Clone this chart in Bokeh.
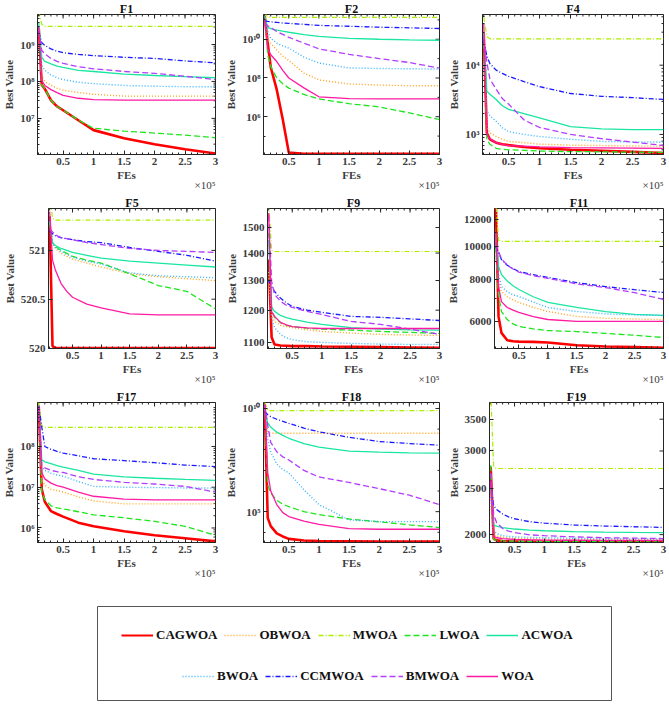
import math
from bokeh.plotting import figure
from bokeh.models import Range1d, FixedTicker, Title, Legend, LegendItem
from bokeh.layouts import column, row
from bokeh.embed import file_html
from bokeh.resources import INLINE

# ---------------- data ----------------
FES = [1e4, 1.5e4, 2e4, 3e4, 4e4, 5e4, 7.5e4, 1e5, 1.5e5, 2e5, 2.5e5, 3e5]
X_TICKS = [5e4, 1e5, 1.5e5, 2e5, 2.5e5, 3e5]
X_TICK_LABELS = ["0.5", "1", "1.5", "2", "2.5", "3"]

ALGOS = ["CAGWOA", "OBWOA", "MWOA", "LWOA", "ACWOA", "BWOA", "CCMWOA", "BMWOA", "WOA"]
COLORS = ["#ff0000", "#ffa31a", "#aeee00", "#1ee61e", "#1ae6a0", "#33b3ff", "#1a1aff", "#b33cff", "#ff1aa3"]
DASHES = ["solid", "1 2", "5 2 1 2", "6 3", "solid", "1 2", "5 2 1 2", "6 3", "solid"]
WIDTHS = [2.6, 1.4, 1.2, 1.3, 1.3, 1.4, 1.3, 1.3, 1.3]

F1 = {
    "CAGWOA": [2.8e9, 8.0e7, 6.3e7, 3.1e7, 2.1e7, 1.66e7, 8.9e6, 4.8e6, 2.9e6, 2.0e6, 1.45e6, 1.12e6],
    "OBWOA": [3.0e9, 1.45e8, 1.0e8, 7.9e7, 6.6e7, 5.8e7, 5.0e7, 4.5e7, 4.0e7, 4.0e7, 4.0e7, 4.0e7],
    "MWOA": [8.0e9, 3.5e9, 3.1e9, 3.1e9, 3.1e9, 3.1e9, 3.1e9, 3.1e9, 3.1e9, 3.1e9, 3.1e9, 3.1e9],
    "LWOA": [2.5e9, 8.0e7, 6.3e7, 3.1e7, 2.1e7, 1.66e7, 9.0e6, 5.4e6, 4.5e6, 4.0e6, 3.5e6, 3.0e6],
    "ACWOA": [4.0e9, 4.5e8, 3.5e8, 3.0e8, 2.6e8, 2.4e8, 2.0e8, 1.86e8, 1.58e8, 1.45e8, 1.35e8, 1.26e8],
    "BWOA": [3.0e9, 2.7e8, 2.0e8, 1.5e8, 1.26e8, 1.12e8, 9.5e7, 8.7e7, 7.8e7, 7.4e7, 7.2e7, 7.2e7],
    "CCMWOA": [2.2e9, 1.12e9, 9.5e8, 7.6e8, 6.6e8, 6.0e8, 5.4e8, 5.0e8, 4.5e8, 4.2e8, 3.6e8, 3.2e8],
    "BMWOA": [2.5e9, 6.9e8, 5.6e8, 4.2e8, 3.5e8, 3.1e8, 2.5e8, 2.2e8, 1.86e8, 1.66e8, 1.38e8, 1.12e8],
    "WOA": [3.0e9, 1.07e8, 7.8e7, 6.0e7, 5.0e7, 4.2e7, 3.5e7, 3.2e7, 3.1e7, 3.1e7, 3.1e7, 3.1e7],
}
F2 = {
    "CAGWOA": [1.6e11, 6.3e9, 3.6e8, 2.5e7, 7.1e5, 1.4e4, 1.2e4, 1.2e4, 1.2e4, 1.2e4, 1.2e4, 1.2e4],
    "OBWOA": [1.0e11, 1.0e10, 6.2e9, 2.75e9, 1.35e9, 7.9e8, 1.8e8, 7.9e7, 4.9e7, 4.3e7, 4.0e7, 4.0e7],
    "MWOA": [2.5e11, 1.4e11, 1.35e11, 1.35e11, 1.35e11, 1.35e11, 1.35e11, 1.35e11, 1.35e11, 1.35e11, 1.35e11, 1.35e11],
    "LWOA": [1.0e11, 1.58e9, 4.0e8, 1.0e8, 5.0e7, 3.0e7, 1.41e7, 8.3e6, 4.7e6, 3.2e6, 1.58e6, 7.1e5],
    "ACWOA": [1.6e11, 4.0e10, 3.5e10, 3.0e10, 2.6e10, 2.3e10, 1.74e10, 1.41e10, 1.12e10, 1.0e10, 9.3e9, 8.9e9],
    "BWOA": [1.0e11, 2.5e10, 1.12e10, 6.3e9, 4.5e9, 3.5e9, 1.2e9, 5.9e8, 3.3e8, 3.1e8, 3.0e8, 2.9e8],
    "CCMWOA": [8.9e10, 8.3e10, 7.9e10, 7.4e10, 6.9e10, 6.6e10, 5.9e10, 5.2e10, 4.7e10, 4.2e10, 3.9e10, 3.6e10],
    "BMWOA": [7.1e10, 5.0e10, 4.0e10, 2.5e10, 1.78e10, 1.26e10, 6.3e9, 3.2e9, 1.66e9, 1.0e9, 6.3e8, 3.2e8],
    "WOA": [1.0e11, 3.2e9, 1.58e9, 7.1e8, 2.5e8, 1.0e8, 3.1e7, 1.07e7, 8.5e6, 8.3e6, 8.3e6, 8.3e6],
}
F4 = {
    "CAGWOA": [2.9e4, 1050, 850, 760, 720, 700, 660, 630, 600, 580, 560, 540],
    "OBWOA": [3.0e4, 1300, 1050, 933, 850, 794, 760, 724, 700, 690, 680, 676],
    "MWOA": [5.0e4, 2.6e4, 2.4e4, 2.4e4, 2.4e4, 2.4e4, 2.4e4, 2.4e4, 2.4e4, 2.4e4, 2.4e4, 2.4e4],
    "LWOA": [2.8e4, 850, 720, 630, 610, 600, 590, 575, 565, 560, 555, 550],
    "ACWOA": [3.0e4, 4200, 3800, 3200, 2600, 2300, 2000, 1740, 1300, 1200, 1175, 1170],
    "BWOA": [2.5e4, 2200, 1860, 1550, 1250, 1100, 1000, 933, 851, 794, 780, 776],
    "CCMWOA": [2.3e4, 1.35e4, 1.05e4, 8500, 7600, 6900, 5800, 4900, 3900, 3550, 3400, 3200],
    "BMWOA": [2.5e4, 1.1e4, 6300, 4500, 3300, 2750, 1620, 1260, 1000, 870, 776, 692],
    "WOA": [4.0e4, 1000, 870, 760, 720, 690, 676, 660, 645, 640, 635, 630],
}
F5 = {
    "CAGWOA": [521.35, 520.02, 520.0, 520.0, 520.0, 520.0, 520.0, 520.0, 520.0, 520.0, 520.0, 520.0],
    "OBWOA": [521.3, 521.07, 521.02, 520.97, 520.94, 520.91, 520.87, 520.83, 520.76, 520.73, 520.71, 520.69],
    "MWOA": [521.6, 521.33, 521.31, 521.31, 521.31, 521.31, 521.31, 521.31, 521.31, 521.31, 521.31, 521.31],
    "LWOA": [521.3, 521.08, 521.04, 521.0, 520.97, 520.94, 520.9, 520.87, 520.76, 520.64, 520.58, 520.4],
    "ACWOA": [521.3, 521.08, 521.05, 521.02, 521.0, 520.98, 520.95, 520.92, 520.89, 520.87, 520.85, 520.83],
    "BWOA": [521.3, 521.08, 521.03, 520.99, 520.96, 520.93, 520.89, 520.86, 520.77, 520.74, 520.73, 520.72],
    "CCMWOA": [521.2, 521.17, 521.15, 521.13, 521.12, 521.11, 521.09, 521.08, 521.03, 520.99, 520.95, 520.89],
    "BMWOA": [521.22, 521.19, 521.16, 521.13, 521.12, 521.11, 521.08, 521.06, 521.02, 521.0, 520.99, 520.98],
    "WOA": [521.4, 520.9, 520.8, 520.66, 520.58, 520.52, 520.45, 520.41, 520.35, 520.34, 520.34, 520.34],
}
F9 = {
    "CAGWOA": [1376, 1115, 1094, 1091, 1090, 1089, 1089, 1088, 1087, 1086, 1085, 1084],
    "OBWOA": [1330, 1185, 1164, 1152, 1148, 1145, 1138, 1133, 1128, 1124, 1122, 1121],
    "MWOA": [1600, 1410, 1406, 1406, 1406, 1406, 1406, 1406, 1406, 1406, 1406, 1406],
    "LWOA": [1480, 1200, 1177, 1160, 1152, 1148, 1143, 1140, 1137, 1133, 1130, 1127],
    "ACWOA": [1450, 1210, 1196, 1183, 1176, 1171, 1162, 1155, 1145, 1140, 1138, 1137],
    "BWOA": [1500, 1170, 1145, 1124, 1114, 1108, 1102, 1100, 1097, 1095, 1094, 1094],
    "CCMWOA": [1300, 1280, 1262, 1240, 1224, 1212, 1200, 1193, 1180, 1177, 1172, 1167],
    "BMWOA": [1550, 1297, 1252, 1229, 1216, 1209, 1196, 1186, 1164, 1155, 1140, 1124],
    "WOA": [1560, 1195, 1180, 1161, 1153, 1148, 1144, 1142, 1142, 1142, 1142, 1142],
}
F11 = {
    "CAGWOA": [14000, 6200, 5550, 5280, 5240, 5230, 5220, 5200, 5100, 5060, 5040, 5010],
    "OBWOA": [10500, 7880, 7360, 7100, 6950, 6830, 6600, 6420, 6210, 6130, 6100, 6080],
    "MWOA": [14000, 10400, 10350, 10350, 10350, 10350, 10350, 10350, 10350, 10350, 10350, 10350],
    "LWOA": [10000, 7210, 6420, 6080, 5900, 5800, 5700, 5640, 5600, 5530, 5460, 5380],
    "ACWOA": [11000, 8730, 8260, 7900, 7650, 7460, 7100, 6830, 6600, 6420, 6300, 6250],
    "BWOA": [10500, 8260, 7610, 7350, 7200, 7110, 6850, 6600, 6420, 6320, 6270, 6250],
    "CCMWOA": [10000, 9600, 9150, 8800, 8600, 8430, 8250, 8100, 7820, 7610, 7450, 7310],
    "BMWOA": [10200, 9660, 9200, 8800, 8580, 8400, 8200, 8050, 7750, 7560, 7300, 6970],
    "WOA": [11000, 7610, 6870, 6600, 6480, 6380, 6200, 6080, 6000, 6000, 6000, 6000],
}
F17 = {
    "CAGWOA": [1.0e9, 8.9e6, 4.4e6, 2.6e6, 2.2e6, 1.9e6, 1.35e6, 1.1e6, 8.3e5, 6.6e5, 5.6e5, 4.7e5],
    "OBWOA": [1.0e9, 1.55e7, 1.12e7, 8.9e6, 8.3e6, 7.6e6, 5.8e6, 4.6e6, 3.9e6, 3.9e6, 3.9e6, 3.9e6],
    "MWOA": [1.2e9, 3.2e8, 2.95e8, 2.95e8, 2.95e8, 2.95e8, 2.95e8, 2.95e8, 2.95e8, 2.95e8, 2.95e8, 2.95e8],
    "LWOA": [1.0e9, 7.6e6, 5.0e6, 3.5e6, 3.1e6, 2.95e6, 2.5e6, 2.1e6, 1.78e6, 1.45e6, 1.1e6, 6.6e5],
    "ACWOA": [1.0e9, 4.7e7, 4.2e7, 3.8e7, 3.4e7, 3.1e7, 2.6e7, 2.1e7, 1.8e7, 1.66e7, 1.55e7, 1.48e7],
    "BWOA": [1.0e9, 3.2e7, 2.6e7, 2.2e7, 2.0e7, 1.86e7, 1.38e7, 1.05e7, 1.0e7, 9.8e6, 9.6e6, 9.5e6],
    "CCMWOA": [1.0e9, 3.0e8, 1.0e8, 8.5e7, 7.6e7, 6.9e7, 5.9e7, 5.0e7, 4.5e7, 4.0e7, 3.5e7, 3.2e7],
    "BMWOA": [1.0e9, 3.5e7, 3.0e7, 2.6e7, 2.4e7, 2.3e7, 1.8e7, 1.55e7, 1.32e7, 1.2e7, 1.05e7, 7.6e6],
    "WOA": [1.0e9, 2.3e7, 1.6e7, 1.26e7, 1.1e7, 1.0e7, 7.6e6, 6.0e6, 5.1e6, 4.9e6, 4.9e6, 4.9e6],
}
F18 = {
    "CAGWOA": [1.58e10, 5.0e4, 2.0e4, 8.9e3, 6.3e3, 4.8e3, 4.0e3, 3.8e3, 3.7e3, 3.6e3, 3.6e3, 3.6e3],
    "OBWOA": [1.6e10, 7.0e8, 6.3e8, 6.3e8, 6.3e8, 6.3e8, 6.3e8, 6.3e8, 6.3e8, 6.3e8, 6.3e8, 6.3e8],
    "MWOA": [2.0e10, 8.5e9, 7.9e9, 7.9e9, 7.9e9, 7.9e9, 7.9e9, 7.9e9, 7.9e9, 7.9e9, 7.9e9, 7.9e9],
    "LWOA": [1.58e10, 2.0e6, 7.9e5, 3.5e5, 2.3e5, 1.74e5, 1.0e5, 7.2e4, 4.4e4, 3.2e4, 2.3e4, 1.7e4],
    "ACWOA": [1.0e10, 2.0e9, 1.26e9, 7.1e8, 5.0e8, 3.6e8, 2.0e8, 1.35e8, 8.5e7, 7.6e7, 7.1e7, 6.9e7],
    "BWOA": [1.26e10, 3.2e8, 7.9e7, 2.0e7, 1.1e7, 7.6e6, 1.15e6, 2.2e5, 4.0e4, 3.3e4, 3.3e4, 3.3e4],
    "CCMWOA": [7.1e9, 5.0e9, 4.0e9, 3.0e9, 2.4e9, 1.9e9, 1.12e9, 7.4e8, 4.0e8, 2.5e8, 2.0e8, 1.66e8],
    "BMWOA": [1.58e10, 1.5e9, 2.3e8, 8.0e7, 4.5e7, 3.2e7, 1.0e7, 4.8e6, 2.6e6, 1.3e6, 6.3e5, 2.2e5],
    "WOA": [1.58e10, 7.9e6, 1.0e6, 2.2e5, 9.0e4, 5.8e4, 3.5e4, 2.4e4, 1.5e4, 1.4e4, 1.4e4, 1.4e4],
}
F19 = {
    "CAGWOA": [2780, 1960, 1945, 1938, 1936, 1935, 1934, 1932, 1931, 1930, 1929, 1929],
    "OBWOA": [2300, 2000, 1985, 1975, 1969, 1965, 1961, 1958, 1955, 1953, 1952, 1952],
    "MWOA": [4000, 2780, 2756, 2756, 2756, 2756, 2756, 2756, 2756, 2756, 2756, 2756],
    "LWOA": [2800, 1955, 1945, 1940, 1938, 1937, 1935, 1935, 1933, 1932, 1931, 1930],
    "ACWOA": [2500, 2095, 2085, 2070, 2062, 2055, 2045, 2038, 2030, 2025, 2021, 2019],
    "BWOA": [2400, 2040, 2010, 1990, 1983, 1978, 1973, 1970, 1965, 1961, 1959, 1958],
    "CCMWOA": [2600, 2300, 2260, 2210, 2180, 2160, 2130, 2115, 2095, 2085, 2078, 2071],
    "BMWOA": [2700, 2200, 2120, 2060, 2035, 2020, 1998, 1990, 1978, 1970, 1966, 1962],
    "WOA": [2600, 1985, 1970, 1962, 1958, 1955, 1951, 1948, 1946, 1945, 1944, 1944],
}

# y axis settings for each panel
F1_Y = dict(rng=(1.05e6, 6.5e9), ticks=[1e7, 1e8, 1e9], labels=["10⁷", "10⁸", "10⁹"])
F2_Y = dict(rng=(1.12e4, 1.9e11), ticks=[1e6, 1e8, 1e10], labels=["10⁶", "10⁸", "10¹⁰"])
F4_Y = dict(rng=(513, 5.4e4), ticks=[1e3, 1e4], labels=["10³", "10⁴"])
F5_Y = dict(rng=(519.995, 521.43), ticks=[520, 520.5, 521], labels=["520", "520.5", "521"])
F9_Y = dict(rng=(1082, 1579), ticks=[1100, 1200, 1300, 1400, 1500], labels=["1100", "1200", "1300", "1400", "1500"])
F11_Y = dict(rng=(4990, 12955), ticks=[6000, 8000, 10000, 12000], labels=["6000", "8000", "10000", "12000"])
F17_Y = dict(rng=(4.4e5, 1.2e9), ticks=[1e6, 1e7, 1e8], labels=["10⁶", "10⁷", "10⁸"])
F18_Y = dict(rng=(3.2e3, 1.95e10), ticks=[1e5, 1e10], labels=["10⁵", "10¹⁰"])
F19_Y = dict(rng=(1925, 3795), ticks=[2000, 2500, 3000, 3500], labels=["2000", "2500", "3000", "3500"])

FONT = "Liberation Serif"
AX = "#262626"
LBL = "#3a3a3a"


def log_minors(lo, hi):
    return [m * 10.0 ** e for e in range(lo, hi + 1) for m in range(2, 10)]


def style_axis(ax, ticker, overrides):
    ax.ticker = ticker
    ax.major_label_overrides = overrides
    ax.major_tick_in = 4
    ax.major_tick_out = 0
    ax.minor_tick_in = 2
    ax.minor_tick_out = 0
    ax.axis_line_color = AX
    ax.major_tick_line_color = AX
    ax.minor_tick_line_color = AX
    ax.major_label_text_font = FONT
    ax.major_label_text_font_style = "bold"
    ax.major_label_text_color = LBL
    ax.major_label_text_font_size = "11px"
    ax.major_label_standoff = 3
    ax.axis_label_text_font = FONT
    ax.axis_label_text_font_style = "bold"
    ax.axis_label_text_color = LBL
    ax.axis_label_text_font_size = "11px"
    ax.axis_label_standoff = 2


def panel(name, data, ycfg, yminor, bl, W, br):
    ylo, yhi = ycfg["rng"]
    p = figure(width=W, height=194, y_axis_type="log",
               x_range=Range1d(8000, 3e5), y_range=Range1d(ylo, yhi),
               output_backend="svg", toolbar_location=None,
               min_border_left=bl, min_border_right=br, min_border_top=14, min_border_bottom=40)
    p.title.text = name
    p.title.align = "center"
    p.title.text_font = FONT
    p.title.text_font_style = "bold"
    p.title.text_font_size = "12px"
    p.title.text_color = "#111111"
    p.title.standoff = -3
    p.xgrid.visible = False
    p.ygrid.visible = False
    p.outline_line_color = AX
    p.outline_line_alpha = 1
    p.background_fill_color = "white"
    p.border_fill_color = "white"

    x_minor = [k * 1e4 for k in range(1, 31)]
    x_over = {t: s for t, s in zip(X_TICKS, X_TICK_LABELS)}
    y_over = {t: s for t, s in zip(ycfg["ticks"], ycfg["labels"])}

    xa = p.xaxis[0]
    style_axis(xa, FixedTicker(ticks=X_TICKS, minor_ticks=x_minor), x_over)
    xa.axis_label = "FEs"
    xa.axis_label_standoff = 1
    ya = p.yaxis[0]
    style_axis(ya, FixedTicker(ticks=ycfg["ticks"], minor_ticks=yminor), y_over)
    ya.axis_label = "Best Value"

    # box ticks on the top and right edges (MATLAB "box on" style)
    p.ray(x=X_TICKS, y=[yhi] * len(X_TICKS), length=4, length_units="screen",
          angle=-math.pi / 2, line_color=AX, line_width=1)
    p.ray(x=x_minor, y=[yhi] * len(x_minor), length=2, length_units="screen",
          angle=-math.pi / 2, line_color=AX, line_width=1)
    p.ray(x=[3e5] * len(ycfg["ticks"]), y=ycfg["ticks"], length=4, length_units="screen",
          angle=math.pi, line_color=AX, line_width=1)
    ym_in = [v for v in yminor if ylo <= v <= yhi]
    if ym_in:
        p.ray(x=[3e5] * len(ym_in), y=ym_in, length=2, length_units="screen",
              angle=math.pi, line_color=AX, line_width=1)

    for a, c, d, w in zip(ALGOS, COLORS, DASHES, WIDTHS):
        p.line(FES, data[a], line_color=c, line_dash=d, line_width=w)

    p.add_layout(Title(text="×10⁵", align="right", text_font=FONT, text_font_size="11px",
                       text_font_style="normal", text_color=LBL, standoff=-13), "below")
    return p


p1 = panel("F1", F1, F1_Y, log_minors(6, 9), 34, 222, 7)
p2 = panel("F2", F2, F2_Y, [1e5, 1e7, 1e9, 1e11], 40, 221, 4)
p4 = panel("F4", F4, F4_Y, log_minors(2, 4), 39, 224, 4)
p5 = panel("F5", F5, F5_Y, [], 43, 222, 7)
p9 = panel("F9", F9, F9_Y, [], 42, 221, 4)
p11 = panel("F11", F11, F11_Y, [7000, 9000, 11000], 51, 224, 4)
p17 = panel("F17", F17, F17_Y, log_minors(5, 9), 34, 222, 7)
p18 = panel("F18", F18, F18_Y, [1e4, 1e6, 1e7, 1e8, 1e9], 40, 221, 4)
p19 = panel("F19", F19, F19_Y, [], 46, 224, 4)

# legend box (its sample lines use F1 data, which lies outside this box's ranges)
lf = figure(width=667, height=125, x_range=Range1d(0, 1), y_range=Range1d(0, 1),
            output_backend="svg", toolbar_location=None,
            x_axis_location=None, y_axis_location=None,
            min_border_left=97, min_border_right=56, min_border_top=24, min_border_bottom=7)
lf.xgrid.visible = False
lf.ygrid.visible = False
lf.outline_line_color = "#555555"
lf.outline_line_width = 1
rends = []
for a, c, d, w in zip(ALGOS, COLORS, DASHES, WIDTHS):
    r = lf.line(FES, F1[a], line_color=c, line_dash=d, line_width=1.6 if w < 2 else 2.0)
    rends.append(r)


def make_legend(idx, loc):
    lg = Legend(items=[LegendItem(label=ALGOS[i], renderers=[rends[i]]) for i in idx],
                orientation="horizontal", location=loc,
                glyph_width=32, glyph_height=16, label_standoff=3, spacing=7,
                padding=0, margin=0, border_line_color=None, background_fill_alpha=0,
                label_text_font=FONT, label_text_font_style="bold", label_text_font_size="13px",
                label_text_color="#111111", label_height=16)
    return lg


lf.add_layout(make_legend([0, 1, 2, 3, 4], (24, 57)))
lf.add_layout(make_legend([5, 6, 7, 8], (85, 16)))

layout = column(row(p1, p2, p4), row(p5, p9, p11), row(p17, p18, p19), lf)
open("out.html", "w").write(file_html(layout, INLINE))
